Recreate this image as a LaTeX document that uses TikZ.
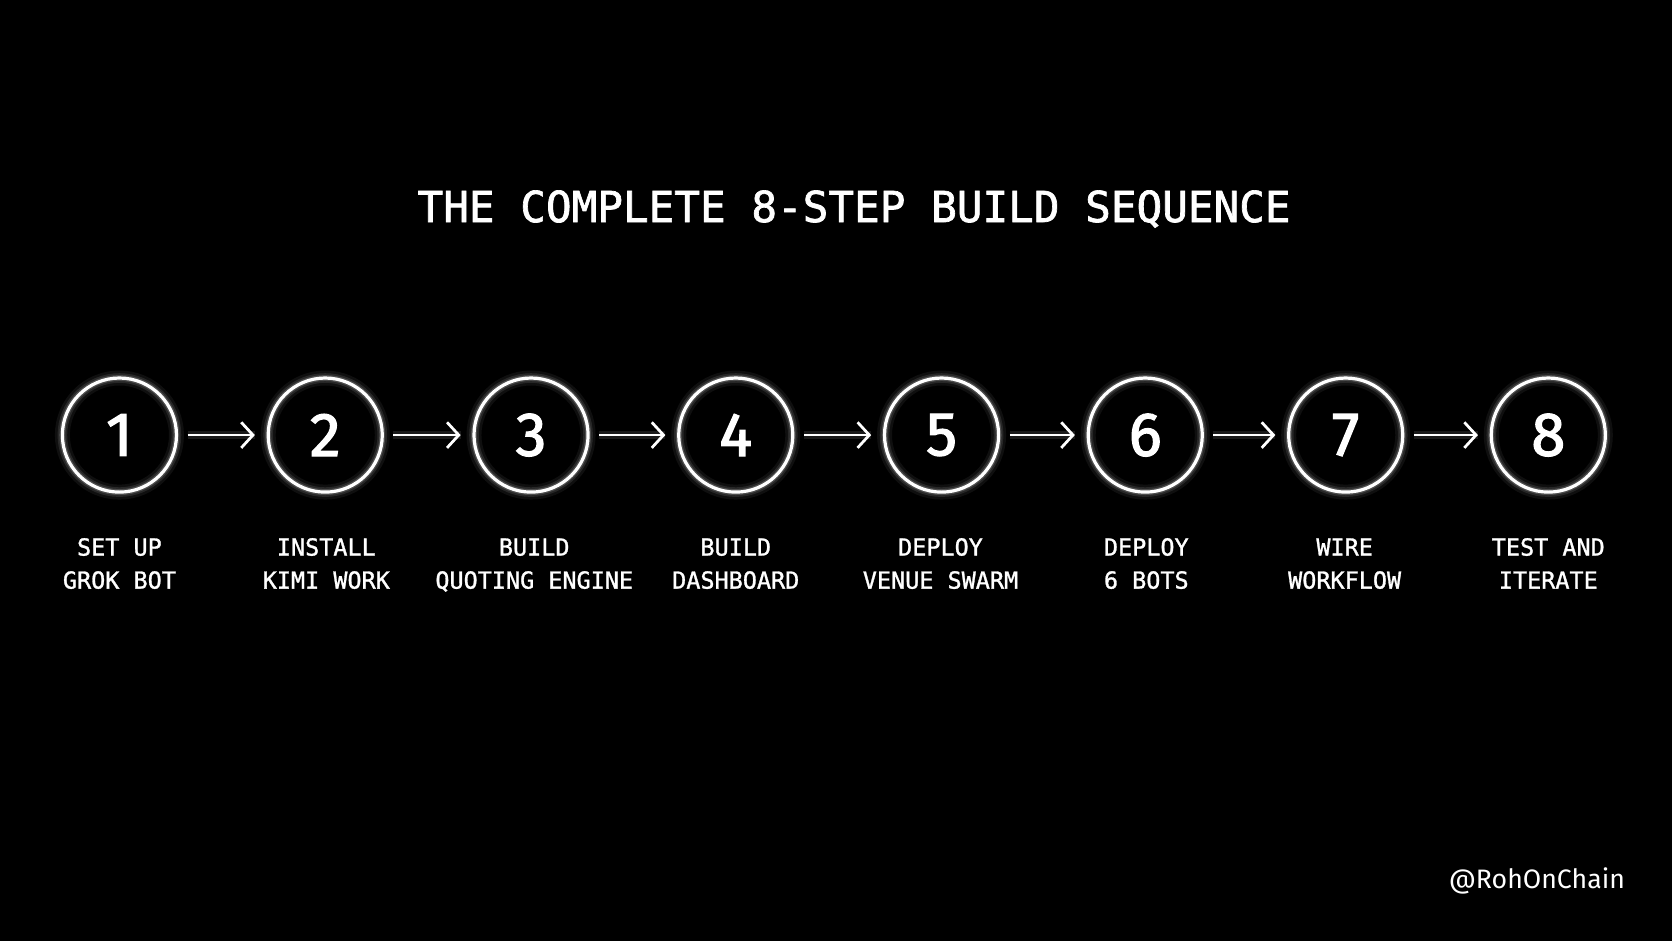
\documentclass[tikz,border=0pt]{standalone}
\usepackage{fontspec}
\setmonofont{DejaVu Sans Mono}
\newfontfamily\titlefont[FakeBold=1.6]{DejaVu Sans Mono}
\newfontfamily\labelfont[FakeBold=1.2]{DejaVu Sans Mono}
\newfontfamily\digitfont[FakeBold=2]{Fira Sans}
\newfontfamily\handlefont{Fira Sans}
\usetikzlibrary{arrows.meta}
\tikzset{
  stepcircle/.style={circle, draw=white, line width=3pt, minimum size=107pt, inner sep=0pt,
    text=white, font=\digitfont\fontsize{58}{60}\selectfont,
    preaction={draw=white, draw opacity=0.06, line width=14pt},
    preaction={draw=white, draw opacity=0.10, line width=9pt},
    preaction={draw=white, draw opacity=0.18, line width=5.5pt}},
  steplabel/.style={text=white, anchor=base, font=\labelfont\fontsize{22}{31}\selectfont, inner sep=0pt},
  flowarrow/.style={draw=white, line width=2.6pt, -{Straight Barb[length=11pt, width=24pt, line width=2.6pt]},
    shorten <=9pt, shorten >=11pt,
    preaction={draw=white, draw opacity=0.10, line width=8pt, -, shorten <=9pt, shorten >=11pt}},
}
\begin{document}
\begin{tikzpicture}[x=1pt,y=-1pt]
\fill[black] (0,0) rectangle (1568,882);
\useasboundingbox (0,0) rectangle (1568,882);
\node[text=white, font=\titlefont\fontsize{40}{44}\selectfont, inner sep=0pt] (title) at (801,196) {THE COMPLETE 8-STEP BUILD SEQUENCE};
\foreach \i/\x/\lx/\la/\lb in {1/112/112/SET UP/GROK BOT, 2/305/306/INSTALL/KIMI WORK, 3/498/501/BUILD/QUOTING ENGINE, 4/690/690/BUILD/DASHBOARD, 5/883/882/DEPLOY/VENUE SWARM, 6/1074/1075/DEPLOY/6 BOTS, 7/1262/1261/WIRE/WORKFLOW, 8/1452/1452/TEST AND/ITERATE}{
  \node[stepcircle] (c\i) at (\x,408) {\i};
  \node[steplabel] (la\i) at (\lx,521) {\la};
  \node[steplabel] (lb\i) at (\lx,552) {\lb};
}
\foreach \a/\b in {1/2,2/3,3/4,4/5,5/6,6/7,7/8}{
  \draw[flowarrow] (c\a) -- (c\b);
}
\node[text=white, font=\handlefont\fontsize{25}{30}\selectfont, inner sep=0pt, anchor=east] (handle) at (1524,826) {@RohOnChain};
\end{tikzpicture}
\end{document}
